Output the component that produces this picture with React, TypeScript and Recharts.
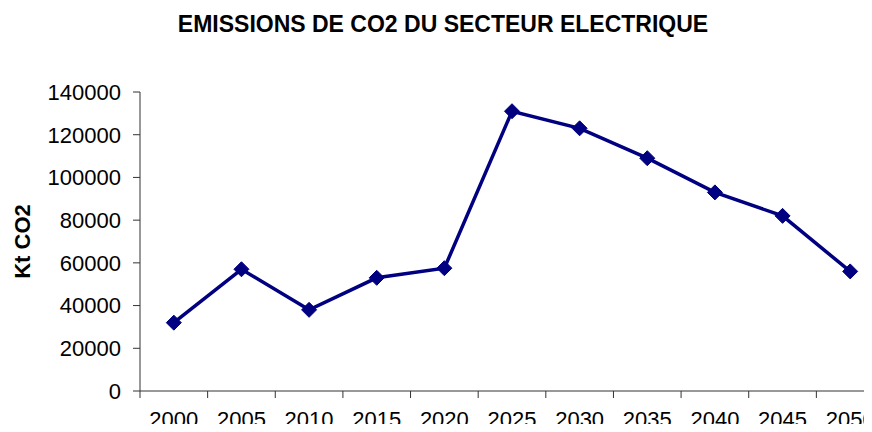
import { LineChart, Line, XAxis, YAxis, Label } from 'recharts'

const years = ['2000', '2005', '2010', '2015', '2020', '2025', '2030', '2035', '2040', '2045', '2050']
const emissions = [32000, 57000, 38000, 53000, 57500, 131000, 123000, 109000, 93000, 82000, 56000]
const yTicks = [0, 20000, 40000, 60000, 80000, 100000, 120000, 140000]

const FONT = '"Liberation Sans", Arial, sans-serif'
const NAVY = '#000080'

const CHART_W = 900
const CHART_H = 432
const Y_AXIS_W = 140
const RIGHT = 16
const BAND = (CHART_W - Y_AXIS_W - RIGHT) / years.length

// category slots: point sits in the middle of each slot, ticks on the slot edges
const data = years.map((year, i) => ({ slot: i + 0.5, year, value: emissions[i] }))
const slotEdges = years.map((_, i) => i).concat(years.length)

function Diamond(props: any) {
  const { cx, cy } = props
  if (cx == null || cy == null) return null
  const r = 7.5
  return (
    <polygon
      points={`${cx},${cy - r} ${cx + r},${cy} ${cx},${cy + r} ${cx - r},${cy}`}
      fill={NAVY}
      stroke={NAVY}
    />
  )
}

function YearTick(props: any) {
  const { x, y, payload } = props
  const i = payload.value
  if (i >= years.length) return null
  return (
    <text x={x + BAND / 2} y={y} dy="0.71em" textAnchor="middle" fontSize={22} fill="#000" fontFamily={FONT}>
      {years[i]}
    </text>
  )
}

export default function App() {
  return (
    <div style={{ position: 'relative', margin: -8, width: 872, height: 432, overflow: 'hidden', background: '#fff' }}>
      <div
        style={{
          position: 'absolute',
          left: 0,
          width: 886,
          top: 10,
          textAlign: 'center',
          fontFamily: FONT,
          fontWeight: 'bold',
          fontSize: 23,
          lineHeight: '28px',
          color: '#000',
        }}
      >
        EMISSIONS DE CO2 DU SECTEUR ELECTRIQUE
      </div>
      <LineChart width={CHART_W} height={CHART_H} data={data} margin={{ top: 92, right: RIGHT, bottom: 0, left: 0 }}>
        <XAxis
          dataKey="slot"
          type="number"
          domain={[0, years.length]}
          ticks={slotEdges}
          interval={0}
          height={41}
          axisLine={{ stroke: '#333' }}
          tickLine={{ stroke: '#333' }}
          tickSize={7}
          tickMargin={13}
          tick={<YearTick />}
        />
        <YAxis
          domain={[0, 140000]}
          ticks={yTicks}
          interval={0}
          width={Y_AXIS_W}
          axisLine={{ stroke: '#333' }}
          tickLine={{ stroke: '#333' }}
          tickSize={7}
          tickMargin={12}
          tick={{ fontSize: 22, fill: '#000', fontFamily: FONT }}
        >
          <Label
            content={(p: any) => {
              const vb = p.viewBox
              const cy = vb.y + vb.height / 2
              return (
                <text
                  x={22}
                  y={cy}
                  transform={`rotate(-90, 22, ${cy})`}
                  textAnchor="middle"
                  dominantBaseline="central"
                  fontSize={22}
                  fontWeight="bold"
                  fontFamily={FONT}
                  fill="#000"
                >
                  Kt CO2
                </text>
              )
            }}
          />
        </YAxis>
        <Line
          type="linear"
          dataKey="value"
          stroke={NAVY}
          strokeWidth={3.5}
          dot={<Diamond />}
          activeDot={false}
          isAnimationActive={false}
        />
      </LineChart>
    </div>
  )
}
